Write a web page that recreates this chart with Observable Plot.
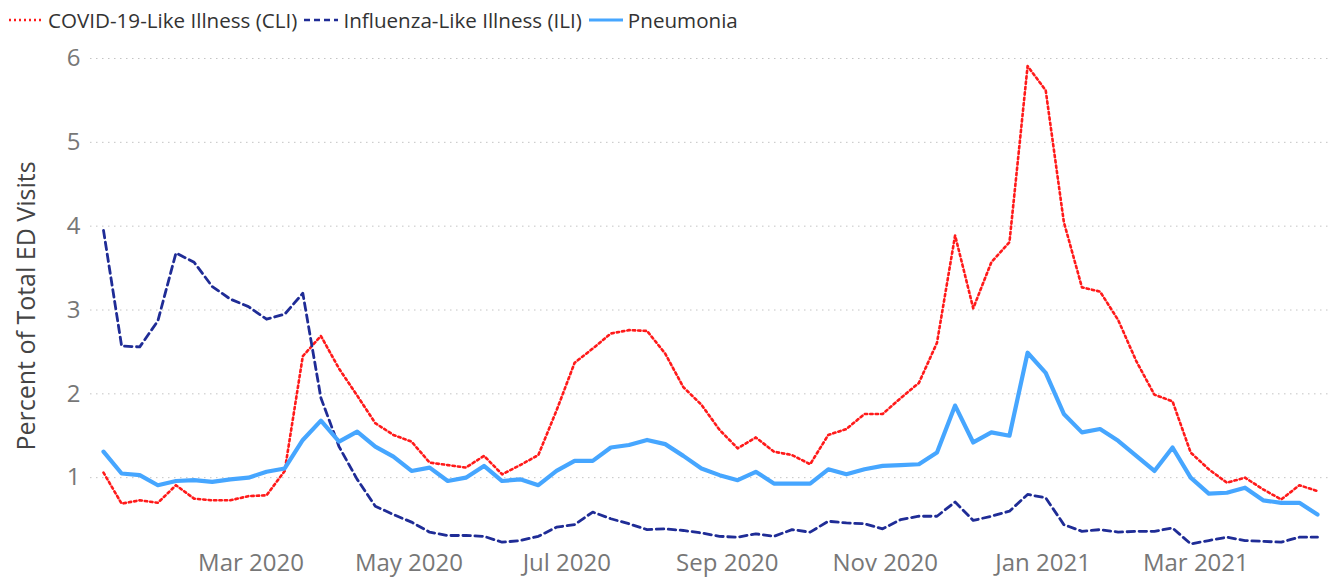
<!DOCTYPE html>
<html><head><meta charset="utf-8">
<script src="https://cdn.jsdelivr.net/npm/d3@7"></script>
<script src="https://cdn.jsdelivr.net/npm/@observablehq/plot@0.6"></script>
<style>
html,body{margin:0;padding:0;background:#fff;}
body{font-family:"Open Sans",sans-serif;width:1335px;height:577px;overflow:hidden;}
#legend{height:40px;display:flex;align-items:center;padding-left:9px;font-size:20.6px;color:#333;white-space:nowrap;}
.item{display:flex;align-items:center;margin-right:7px;flex-shrink:0;}
.item svg{margin-right:5px;flex-shrink:0;display:block;}
</style></head><body>
<div id="legend"></div><div id="chart"></div>
<script>
// Week-ending dates (weekly)
const weeks = [
"2020-01-04","2020-01-11","2020-01-18","2020-01-25",
"2020-02-01","2020-02-08","2020-02-15","2020-02-22","2020-02-29",
"2020-03-07","2020-03-14","2020-03-21","2020-03-28",
"2020-04-04","2020-04-11","2020-04-18","2020-04-25",
"2020-05-02","2020-05-09","2020-05-16","2020-05-23","2020-05-30",
"2020-06-06","2020-06-13","2020-06-20","2020-06-27",
"2020-07-04","2020-07-11","2020-07-18","2020-07-25",
"2020-08-01","2020-08-08","2020-08-15","2020-08-22","2020-08-29",
"2020-09-05","2020-09-12","2020-09-19","2020-09-26",
"2020-10-03","2020-10-10","2020-10-17","2020-10-24","2020-10-31",
"2020-11-07","2020-11-14","2020-11-21","2020-11-28",
"2020-12-05","2020-12-12","2020-12-19","2020-12-26",
"2021-01-02","2021-01-09","2021-01-16","2021-01-23","2021-01-30",
"2021-02-06","2021-02-13","2021-02-20","2021-02-27",
"2021-03-06","2021-03-13","2021-03-20","2021-03-27",
"2021-04-03","2021-04-10","2021-04-17"];

const cli = [1.06,0.69,0.73,0.70,0.91,0.75,0.73,0.73,0.78,0.79,1.08,2.45,2.69,2.30,1.98,1.65,1.51,1.43,1.18,1.15,
1.12,1.26,1.04,1.15,1.27,1.80,2.37,2.54,2.72,2.76,2.75,2.48,2.08,1.87,1.57,1.35,1.48,1.31,1.27,1.16,
1.51,1.58,1.76,1.76,1.95,2.13,2.61,3.89,3.02,3.57,3.81,5.91,5.62,4.05,3.27,3.22,2.88,2.39,1.99,1.91,
1.30,1.10,0.94,1.00,0.86,0.74,0.91,0.84];

const ili = [3.95,2.57,2.56,2.87,3.68,3.57,3.28,3.13,3.04,2.89,2.95,3.20,1.95,1.37,0.98,0.66,0.56,0.47,0.35,0.31,
0.31,0.30,0.23,0.25,0.30,0.41,0.44,0.59,0.51,0.45,0.38,0.39,0.37,0.34,0.30,0.29,0.33,0.30,0.38,0.35,
0.48,0.46,0.45,0.39,0.50,0.54,0.54,0.71,0.49,0.54,0.60,0.80,0.76,0.44,0.36,0.38,0.35,0.36,0.36,0.40,
0.21,0.25,0.29,0.25,0.24,0.23,0.29,0.29];

const pneumonia = [1.31,1.05,1.03,0.91,0.96,0.97,0.95,0.98,1.00,1.07,1.11,1.45,1.68,1.43,1.55,1.37,1.25,1.08,1.12,0.96,
1.00,1.14,0.96,0.98,0.91,1.08,1.20,1.20,1.36,1.39,1.45,1.40,1.26,1.11,1.03,0.97,1.07,0.93,0.93,0.93,
1.10,1.04,1.10,1.14,1.15,1.16,1.30,1.86,1.42,1.54,1.50,2.49,2.25,1.76,1.54,1.58,1.44,1.26,1.08,1.36,
1.00,0.81,0.82,0.88,0.73,0.70,0.70,0.56];

const seriesNames = ["COVID-19-Like Illness (CLI)","Influenza-Like Illness (ILI)","Pneumonia"];
const xTicks = ["2020-03-01","2020-05-01","2020-07-01","2020-09-01","2020-11-01","2021-01-01","2021-03-01"];
const yTicks = [1,2,3,4,5,6];
const yTitle = "Percent of Total ED Visits";

const styles = [
  {stroke:"#ff1a1a", strokeWidth:2.6, strokeDasharray:"2.4,3"},
  {stroke:"#1f2c96", strokeWidth:2.8, strokeDasharray:"7.5,4.5"},
  {stroke:"#46a6ff", strokeWidth:4.2, strokeDasharray:null}
];

// Legend
const legend = document.getElementById("legend");
seriesNames.forEach((name,i)=>{
  const s = styles[i];
  const item = document.createElement("div");
  item.className = "item";
  item.innerHTML = `<svg width="34" height="8"><line x1="0" x2="34" y1="4" y2="4" stroke="${s.stroke}" stroke-width="${i==2?3:2.4}" ${s.strokeDasharray?`stroke-dasharray="${i==0?'2,3':'6,4'}"`:''}/></svg><span>${name}</span>`;
  legend.appendChild(item);
});

const parse = d3.utcParse("%Y-%m-%d");
const dates = weeks.map(parse);
const mk = arr => arr.map((v,i)=>({date:dates[i], value:v}));
const seriesData = [mk(cli), mk(ili), mk(pneumonia)];

const chart = Plot.plot({
  width:1335, height:537,
  marginTop:18, marginBottom:16, marginLeft:90, marginRight:5,
  style:{fontFamily:"Open Sans, sans-serif", background:"white", overflow:"visible"},
  x:{type:"utc", domain:[dates[0], dates[dates.length-1]], range:[103,1317]},
  y:{domain:[0,6]},
  marks:[
    Plot.gridY(yTicks, {stroke:"#c4c4c4", strokeOpacity:1, strokeDasharray:"1.5,4.5", strokeWidth:1}),
    Plot.axisY(yTicks, {tickSize:0, tickPadding:10, fontSize:24, color:"#777", tickFormat:d=>String(d), label:null}),
    Plot.axisX(xTicks.map(parse), {tickSize:0, tickPadding:0, tickFormat:d3.utcFormat("%b %Y"), fontSize:24, color:"#777", dy:-8, label:null}),
    Plot.text([yTitle], {text:d=>d, frameAnchor:"left", textAnchor:"middle", lineAnchor:"middle", rotate:-90, dx:-64, dy:-4, fontSize:25, fill:"#444"}),
    ...seriesData.map((d,i)=>Plot.line(d, {x:"date", y:"value", ...styles[i], strokeLinejoin:"round"}))
  ]
});
document.getElementById("chart").appendChild(chart);
</script>
</body></html>
